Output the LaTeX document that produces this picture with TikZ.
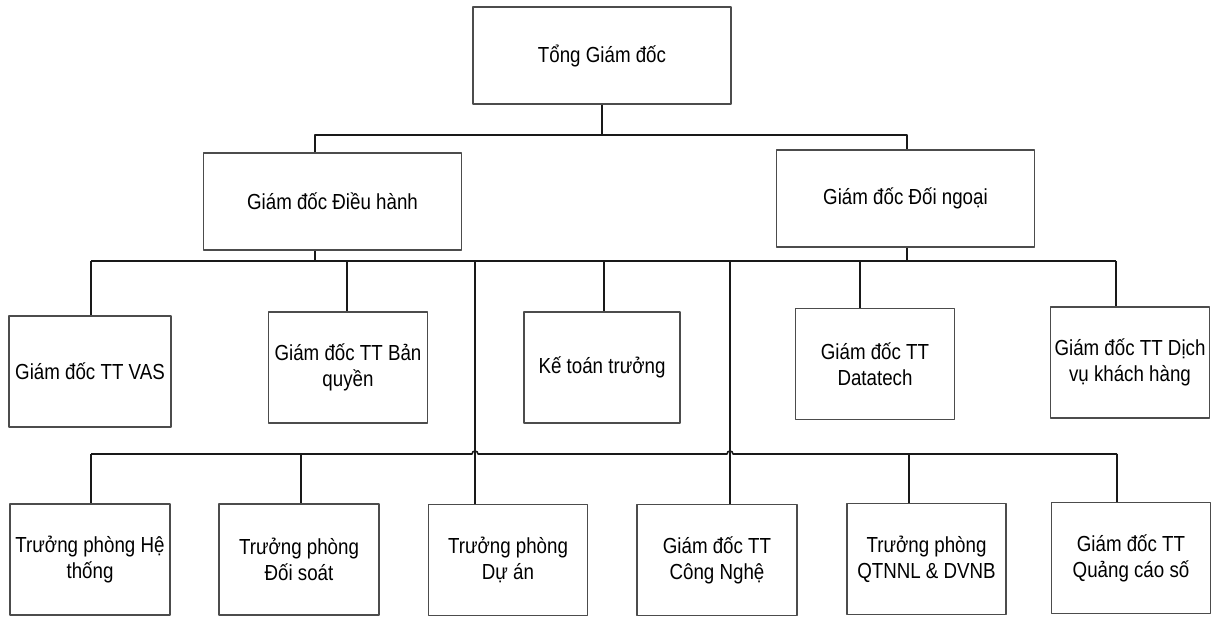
\documentclass[tikz,border=0pt]{standalone}
\usepackage{fontspec}
\setmainfont{Liberation Sans}[FakeStretch=0.86]
\begin{document}
\begin{tikzpicture}[x=0.02cm,y=-0.02cm,line join=round,font=\fontsize{12.4}{14.8}\selectfont,
box/.style={draw=black!70,line width=0.7pt,fill=white,align=center,inner sep=0pt,minimum width=31.8mm,minimum height=22.2mm},
head/.style={box,minimum width=51.6mm,minimum height=19.4mm},
conn/.style={line width=0.9pt,black!90}]
\useasboundingbox (0,0) rectangle (1211,617);
\node[head] (tgd) at (602,55.5) {Tổng Giám đốc};
\node[head] (dh) at (332.5,201.5) {Giám đốc Điều hành};
\node[head] (dn) at (905.5,198.5) {Giám đốc Đối ngoại};
\node[box,minimum width=32.4mm] (vas) at (90,371.5) {Giám đốc TT VAS};
\node[box] (bq) at (348,367.5) {Giám đốc TT Bản\\quyền};
\node[box,minimum width=31.2mm] (kt) at (602,367.5) {Kế toán trưởng};
\node[box] (dt) at (875,364) {Giám đốc TT\\Datatech};
\node[box] (dv) at (1130,362.5) {Giám đốc TT Dịch\\vụ khách hàng};
\node[box,minimum width=32mm] (ht) at (90,559.5) {Trưởng phòng Hệ\\thống};
\node[box,minimum width=32mm] (ds) at (299,559.5) {Trưởng phòng\\Đối soát};
\node[box] (da) at (508,560) {Trưởng phòng\\Dự án};
\node[box,minimum width=32mm] (cn) at (717,560) {Giám đốc TT\\Công Nghệ};
\node[box] (ql) at (926.5,559) {Trưởng phòng\\QTNNL \& DVNB};
\node[box] (qc) at (1131,558) {Giám đốc TT\\Quảng cáo số};
\coordinate (a1) at (315,135); \coordinate (a2) at (907,135);
\coordinate (b1) at (91,261); \coordinate (b2) at (1116,261);
\draw[conn] (tgd.south) -- (tgd.south |- a1);
\draw[conn] (a1 |- dh.north) -- (a1) -- (a2) -- (a2 |- dn.north);
\draw[conn] (b1) -- (b2);
\draw[conn] (dh.south -| a1) -- (a1 |- b1);
\draw[conn] (dn.south -| a2) -- (a2 |- b1);
\foreach \x/\n in {91/vas,347/bq,604/kt,860/dt,1116/dv,475/da,730/cn}
\draw[conn] (\x,261) -- (\x,261 |- \n.north);
\draw[conn] (91,454) -- (472,454) arc (180:360:3) -- (727,454) arc (180:360:3) -- (1117,454);
\foreach \x/\n in {91/ht,301/ds,909/ql,1117/qc}
\draw[conn] (\x,454) -- (\x,454 |- \n.north);
\end{tikzpicture}
\end{document}
